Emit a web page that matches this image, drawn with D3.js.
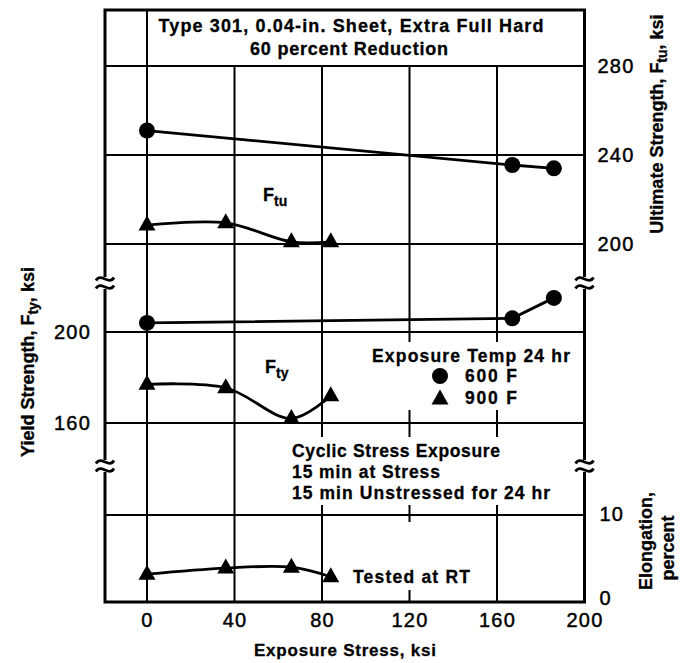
<!DOCTYPE html>
<html>
<head>
<meta charset="utf-8">
<script src="https://cdn.jsdelivr.net/npm/d3@7"></script>
<style>
  html, body { margin: 0; padding: 0; background: #fff; }
  svg { display: block; }
</style>
</head>
<body>
<script>
// ---------------- data ----------------
const stress600 = [0, 167, 186];
const ftu600 = [251, 235.5, 234];
const fty600 = [204, 206, 215];

const stress900 = [0, 36, 66, 84];
const ftu900 = [208.5, 209.5, 201, 201];
const fty900 = [177, 175.5, 162, 172];
const elong900 = [3.2, 3.9, 4.0, 2.9];

const xTicks = [0, 40, 80, 120, 160, 200];
const ultTicks = [200, 240, 280];
const yldTicks = [160, 200];
const elTicks = [0, 10];

// ---------------- layout ----------------
const W = 686, H = 663;
const svg = d3.select("body").append("svg").attr("width", W).attr("height", H);
svg.append("rect").attr("width", W).attr("height", H).attr("fill", "#fff");

const x = d3.scaleLinear().domain([0, 200]).range([147, 584.5]);
const yU = d3.scaleLinear().domain([200, 280]).range([244, 66]);
const yY = d3.scaleLinear().domain([160, 200]).range([423, 332]);
const yE = d3.scaleLinear().domain([0, 10]).range([602, 515]);

const frameL = x(-19.2), frameR = x(200), frameT = 10, frameB = yE(0);
const breaks = [283, 466];

const BOLD = "'Liberation Sans', Arial, Helvetica, sans-serif";

// ---------------- grid ----------------
const grid = svg.append("g").attr("stroke", "#000").attr("stroke-width", 2).attr("fill", "none");
xTicks.filter(d => d < 200).forEach(d => {
  grid.append("line").attr("x1", x(d)).attr("x2", x(d))
    .attr("y1", d === 0 ? frameT : yU(280)).attr("y2", frameB);
});
const hLines = [yU(280), yU(240), yU(200), yY(200), yY(160), yE(10)];
hLines.forEach(y => {
  grid.append("line").attr("x1", frameL).attr("x2", frameR).attr("y1", y).attr("y2", y);
});

// white paper behind text blocks (cuts grid lines)
const paper = svg.append("g").attr("fill", "#fff");
[[365, 342, 212, 68], [285, 437, 271, 68], [345, 522, 133, 68]].forEach(r => {
  paper.append("rect").attr("x", r[0]).attr("y", r[1]).attr("width", r[2]).attr("height", r[3]);
});

// frame
svg.append("rect").attr("x", frameL).attr("y", frameT).attr("width", frameR - frameL).attr("height", frameB - frameT)
  .attr("fill", "none").attr("stroke", "#000").attr("stroke-width", 3);

// break marks
breaks.forEach(by => {
  [frameL, frameR].forEach(bx => {
    svg.append("rect").attr("x", bx - 4).attr("y", by - 6).attr("width", 8).attr("height", 12).attr("fill", "#fff");
    [-4, 4].forEach(o => {
      const yy = by + o;
      svg.append("path")
        .attr("d", `M${bx - 9},${yy + 1.5} C${bx - 4},${yy - 7} ${bx + 4},${yy + 7} ${bx + 9},${yy - 1.5}`)
        .attr("fill", "none").attr("stroke", "#000").attr("stroke-width", 2.8);
    });
  });
});

// ---------------- axes ----------------
function styleAxis(g) {
  g.select(".domain").remove();
  g.selectAll(".tick line").remove();
  g.selectAll("text").attr("font-family", "'Liberation Sans', Arial, sans-serif")
    .attr("font-size", 20).attr("letter-spacing", "1.2px")
    .attr("fill", "#000").attr("stroke", "#000").attr("stroke-width", 0.45);
}
svg.append("g").attr("transform", `translate(0,${frameB})`)
  .call(d3.axisBottom(x).tickValues(xTicks).tickSize(0).tickPadding(11).tickFormat(d3.format("d")))
  .call(styleAxis);
svg.append("g").attr("transform", `translate(${frameR},0)`)
  .call(d3.axisRight(yU).tickValues(ultTicks).tickSize(0).tickPadding(13).tickFormat(d3.format("d")))
  .call(styleAxis);
svg.append("g").attr("transform", `translate(${frameR},0)`)
  .call(d3.axisRight(yE).tickValues(elTicks).tickSize(0).tickPadding(15).tickFormat(d3.format("d")))
  .call(styleAxis)
  .selectAll(".tick").attr("transform", d => `translate(0,${yE(d) - (d === 0 ? 3 : 0)})`);
svg.append("g").attr("transform", `translate(${frameL},0)`)
  .call(d3.axisLeft(yY).tickValues(yldTicks).tickSize(0).tickPadding(14).tickFormat(d3.format("d")))
  .call(styleAxis);

// ---------------- series ----------------
const lineLin = (ys) => d3.line().x((d, i) => x(stress600[i])).y((d) => ys(d));
const lineSm = (ys) => d3.line().x((d, i) => x(stress900[i])).y((d) => ys(d)).curve(d3.curveCatmullRom.alpha(0.5));

const ser = svg.append("g");
function drawLine(path) {
  ser.append("path").attr("d", path).attr("fill", "none").attr("stroke", "#000").attr("stroke-width", 2.8);
}
drawLine(lineLin(yU)(ftu600));
drawLine(lineLin(yY)(fty600));
drawLine(lineSm(yU)(ftu900));
drawLine(lineSm(yY)(fty900));
drawLine(lineSm(yE)(elong900));

const TRI = "M0,-9.5L8.5,5.5L-8.5,5.5Z";
function circles(xs, vals, ys) {
  ser.selectAll(null).data(vals).enter().append("circle")
    .attr("cx", (d, i) => x(xs[i])).attr("cy", d => ys(d)).attr("r", 8).attr("fill", "#000");
}
function tris(xs, vals, ys) {
  ser.selectAll(null).data(vals).enter().append("path")
    .attr("d", TRI).attr("transform", (d, i) => `translate(${x(xs[i])},${ys(d)})`).attr("fill", "#000");
}
circles(stress600, ftu600, yU);
circles(stress600, fty600, yY);
tris(stress900, ftu900, yU);
tris(stress900, fty900, yY);
tris(stress900, elong900, yE);

// ---------------- texts ----------------
function txt(xp, yp, s, size, anchor, tl) {
  const t = svg.append("text").attr("x", xp).attr("y", yp).attr("font-family", BOLD)
    .attr("font-weight", "bold").attr("font-size", size).attr("text-anchor", anchor || "start")
    .attr("stroke", "#000").attr("stroke-width", 0.3).text(s);
  if (tl) t.attr("textLength", tl).attr("lengthAdjust", "spacing");
  return t;
}
txt(351, 32, "Type 301, 0.04-in. Sheet, Extra Full Hard", 18, "middle", 385);
txt(349, 55, "60 percent Reduction", 18, "middle", 198);

function fsub(xp, yp, main, sub) {
  const t = svg.append("text").attr("x", xp).attr("y", yp).attr("font-family", BOLD)
    .attr("font-weight", "bold").attr("font-size", 18).attr("stroke", "#000").attr("stroke-width", 0.3);
  t.append("tspan").text(main);
  t.append("tspan").attr("font-size", 14).attr("dy", 5).text(sub);
}
fsub(263, 201, "F", "tu");
fsub(265, 373, "F", "ty");

txt(372, 362, "Exposure Temp 24 hr", 17.5, "start", 198);
svg.append("circle").attr("cx", 440).attr("cy", 376).attr("r", 8).attr("fill", "#000");
txt(465, 382, "600 F", 17.5, "start", 52);
svg.append("path").attr("d", TRI).attr("transform", "translate(440,399)").attr("fill", "#000");
txt(465, 404, "900 F", 17.5, "start", 52);

txt(292, 457, "Cyclic Stress Exposure", 17.5, "start", 208);
txt(292, 478, "15 min at Stress", 17.5, "start", 148);
txt(292, 499, "15 min Unstressed for 24 hr", 17.5, "start", 258);

txt(353, 583, "Tested at RT", 17.5, "start", 117);

txt(345, 656, "Exposure Stress, ksi", 17, "middle", 182);

// rotated axis titles
function rtitle(cx, cy, parts, size) {
  const t = svg.append("text").attr("transform", `translate(${cx},${cy}) rotate(-90)`)
    .attr("text-anchor", "middle").attr("font-family", BOLD).attr("font-weight", "bold")
    .attr("font-size", size).attr("stroke", "#000").attr("stroke-width", 0.3);
  parts.forEach(p => {
    const sp = t.append("tspan").text(p.t);
    if (p.sub) sp.attr("font-size", size - 4).attr("dy", 4);
    else if (p.back) sp.attr("dy", -4);
  });
  return t;
}
rtitle(663, 124, [{t: "Ultimate Strength, F"}, {t: "tu", sub: true}, {t: ", ksi", back: true}], 18);
rtitle(34, 362, [{t: "Yield Strength, F"}, {t: "ty", sub: true}, {t: ", ksi", back: true}], 18);
rtitle(652, 541, [{t: "Elongation,"}], 18);
rtitle(674, 548, [{t: "percent"}], 18);
</script>
</body>
</html>
